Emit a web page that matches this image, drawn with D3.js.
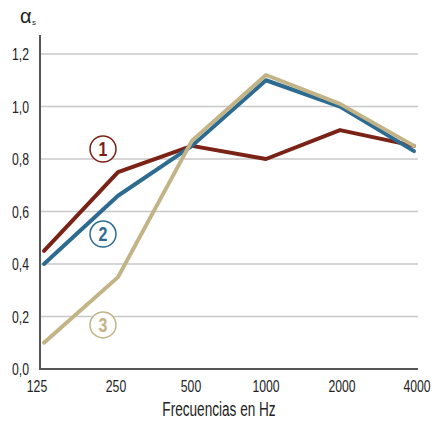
<!DOCTYPE html>
<html><head><meta charset="utf-8">
<script src="https://cdn.jsdelivr.net/npm/d3@7"></script>
<style>
body{margin:0;background:#fff;}
text{font-family:"Liberation Sans","Arial",sans-serif;}
</style></head>
<body><svg id="c" width="433" height="421"></svg>
<script>
const frequencies = ["125","250","500","1000","2000","4000"];
const yTicks = [0,0.2,0.4,0.6,0.8,1.0,1.2];
const series1 = [0.45,0.75,0.85,0.80,0.91,0.85];
const series2 = [0.40,0.66,0.85,1.10,1.00,0.83];
const series3 = [0.10,0.35,0.87,1.12,1.01,0.85];
const seriesLabels = ["1","2","3"];
const labelValues = [0.838,0.514,0.168];
const colors = ["#7b2216","#2d6c90","#c3b487"];

const svg = d3.select("#c");
const x = d3.scalePoint().domain(frequencies).range([44,414]);
const y = d3.scaleLinear().domain([0,1.2]).range([369,54]);
const sx = 0.72;

// grid
svg.append("g").selectAll("line").data(yTicks.filter(d=>d>0)).join("line")
  .attr("x1",40).attr("x2",418).attr("y1",d=>y(d)).attr("y2",d=>y(d))
  .attr("stroke","#c8c8c8").attr("stroke-width",1.5);

// y tick labels
svg.append("g").selectAll("text").data(yTicks).join("text")
  .attr("transform",d=>`translate(29,${y(d)+6}) scale(${sx},1)`).attr("text-anchor","end")
  .attr("font-size",17).attr("fill","#222")
  .text(d=>d3.format(".1f")(d).replace(".",","));

// x tick labels
const xLabelOffset = {"125":-7,"250":-2,"500":-1,"1000":0,"2000":2,"4000":3};
svg.append("g").selectAll("text").data(frequencies).join("text")
  .attr("transform",d=>`translate(${x(d)+xLabelOffset[d]},392) scale(${sx},1)`).attr("text-anchor","middle")
  .attr("font-size",17).attr("fill","#222").text(d=>d);

// axes
svg.append("line").attr("x1",40).attr("x2",40).attr("y1",35).attr("y2",370)
  .attr("stroke","#555").attr("stroke-width",2);
svg.append("line").attr("x1",39).attr("x2",418).attr("y1",369).attr("y2",369)
  .attr("stroke","#555").attr("stroke-width",2);

// axis titles
svg.append("text").attr("x",20).attr("y",23).attr("fill","#222")
  .attr("font-family","Liberation Serif,serif").attr("font-size",20).text("α");
svg.append("text").attr("x",32).attr("y",25).attr("fill","#222")
  .attr("font-size",8).text("s");
svg.append("text").attr("transform",`translate(219,416) scale(0.68,1)`).attr("text-anchor","middle")
  .attr("font-size",20).attr("fill","#222").text("Frecuencias en Hz");

// lines
const line = d3.line().x((d,i)=>x(frequencies[i])).y(d=>y(d));
[series1,series2,series3].forEach((s,k)=>{
  svg.append("path").attr("d",line(s)).attr("fill","none")
    .attr("stroke",colors[k]).attr("stroke-width",4)
    .attr("stroke-linejoin","round").attr("stroke-linecap","round");
});

// circled labels
seriesLabels.forEach((l,k)=>{
  const cx = 103, cy = y(labelValues[k]);
  svg.append("circle").attr("cx",cx).attr("cy",cy).attr("r",13)
    .attr("fill","#fff").attr("stroke",colors[k]).attr("stroke-width",1.5);
  svg.append("text").attr("transform",`translate(${cx},${cy+7}) scale(0.8,1)`).attr("text-anchor","middle")
    .attr("font-size",20).attr("font-weight","bold").attr("fill",colors[k]).text(l);
});
</script></body></html>
